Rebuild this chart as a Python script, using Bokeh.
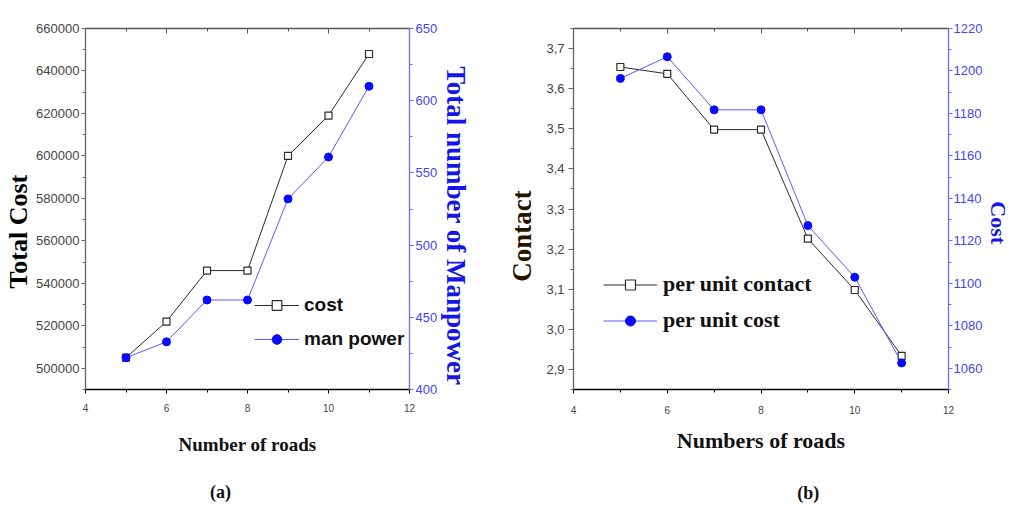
from bokeh.plotting import figure
from bokeh.models import (LinearAxis, Range1d, FixedTicker, Legend, LegendItem,
                          BasicTickFormatter)
from bokeh.layouts import row
from bokeh.embed import file_html
from bokeh.resources import INLINE

# ---------------- data ----------------
roads = [5, 6, 7, 8, 9, 10, 11]
total_cost = [505000, 522000, 546000, 546000, 600000, 619000, 648000]
man_power = [422, 433, 462, 462, 532, 561, 610]

per_unit_contact = [3.654, 3.637, 3.498, 3.498, 3.226, 3.098, 2.934]
per_unit_cost = [1196.5, 1206.7, 1181.7, 1181.7, 1127.2, 1102.9, 1062.5]

x_ticks = [4, 6, 8, 10, 12]
x_minor = [5, 7, 9, 11]
a_left_ticks = [500000, 520000, 540000, 560000, 580000, 600000, 620000, 640000, 660000]
a_right_ticks = [400, 450, 500, 550, 600, 650]
b_left_ticks = [2.9, 3.0, 3.1, 3.2, 3.3, 3.4, 3.5, 3.6, 3.7]
b_left_labels = ["2,9", "3,0", "3,1", "3,2", "3,3", "3,4", "3,5", "3,6", "3,7"]
b_right_ticks = [1060, 1080, 1100, 1120, 1140, 1160, 1180, 1200, 1220]

TICK_FONT = "Liberation Sans"
SERIF = "Liberation Serif"
BLACK_LINE = "#2b2b2b"
BLUE_LINE = "#5a5aff"
BLUE_MARK = "#0a0aff"
BLUE_AXIS = "#6b6bff"
BLUE_TEXT = "#4545ee"
GRAY_TEXT = "#444444"
NB = "\u00a0"  # non-breaking space, used to nudge centred titles


def tick_axis(ticks, minor, color, label_color, font_size, range_name=None,
              inward=False, show_labels=True, overrides=None, standoff=2, tick=4):
    kw = dict(ticker=FixedTicker(ticks=ticks, minor_ticks=minor),
              axis_line_color=color, major_tick_line_color=color,
              minor_tick_line_color=color, axis_line_width=1.3,
              major_label_text_font=TICK_FONT,
              major_label_text_color=label_color,
              major_label_text_font_size=font_size,
              major_label_standoff=standoff)
    if range_name:
        kw["y_range_name"] = range_name
    if inward:
        kw.update(major_tick_in=5, major_tick_out=0, minor_tick_in=3, minor_tick_out=0)
    else:
        kw.update(major_tick_in=0, major_tick_out=tick, minor_tick_in=0, minor_tick_out=3)
    ax = LinearAxis(**kw)
    if not show_labels:
        ax.major_label_overrides = {t: "" for t in ticks}
        ax.major_label_standoff = 0
    elif overrides:
        ax.major_label_overrides = overrides
    return ax


def title_axis(text, size, color, standoff, range_name=None):
    kw = dict(ticker=FixedTicker(ticks=[]), axis_line_color=None,
              major_tick_out=0, major_tick_in=0, minor_tick_out=0, minor_tick_in=0,
              major_label_standoff=0,
              axis_label=text, axis_label_text_font=SERIF,
              axis_label_text_font_size=size, axis_label_text_font_style="bold",
              axis_label_text_color=color, axis_label_standoff=standoff)
    if range_name:
        kw["y_range_name"] = range_name
    return LinearAxis(**kw)


def base_fig(w, h, l, r, t, b, xr, yr, extra):
    p = figure(width=w, height=h, x_range=Range1d(*xr), y_range=Range1d(*yr),
               output_backend="svg", toolbar_location=None,
               x_axis_location=None, y_axis_location=None,
               min_border_left=l, min_border_right=r,
               min_border_top=t, min_border_bottom=b)
    p.extra_y_ranges = {"right": Range1d(*extra)}
    p.xgrid.visible = False
    p.ygrid.visible = False
    p.outline_line_color = None
    return p


# ---------------- panel (a) ----------------
pa = base_fig(500, 505, 83, 91, 28, 113, (4, 12), (490000, 660000), (400, 650))
a_left_minor = [490000 + 10000 * i for i in range(18)]

xa = tick_axis(x_ticks, x_minor, "black", GRAY_TEXT, "10px", standoff=10)
xa.axis_label = "Number of roads"
xa.axis_label_text_font = SERIF
xa.axis_label_text_font_size = "19px"
xa.axis_label_text_font_style = "bold"
xa.axis_label_text_color = "#111111"
xa.axis_label_standoff = 19
pa.add_layout(xa, "below")
pa.add_layout(title_axis("(a)" + NB * 12, "18px", "#111111", 24), "below")
pa.add_layout(tick_axis(x_ticks, x_minor, "#555555", GRAY_TEXT, "10px", inward=True,
                        show_labels=False), "above")
ya = tick_axis(a_left_ticks, a_left_minor, "#666666", GRAY_TEXT, "13px")
ya.formatter = BasicTickFormatter(use_scientific=False)
pa.add_layout(ya, "left")
pa.add_layout(title_axis("Total Cost" + NB * 7, "26px", "black", 1), "left")
pa.add_layout(tick_axis(a_right_ticks, [425, 475, 525, 575, 625], BLUE_AXIS, BLUE_TEXT,
                        "13px", range_name="right"), "right")
pa.add_layout(title_axis(NB * 5 + "Total number of Manpower", "27px", "#1515e8", 0,
                         range_name="right"), "right")

la1 = pa.line(roads, total_cost, line_color=BLACK_LINE, line_width=1)
sa1 = pa.scatter(roads, total_cost, marker="square", size=7, fill_color="white",
                 line_color=BLACK_LINE, line_width=1.2)
la2 = pa.line(roads, man_power, line_color=BLUE_LINE, line_width=1, y_range_name="right")
sa2 = pa.scatter(roads, man_power, marker="circle", size=8, fill_color=BLUE_MARK,
                 line_color=BLUE_MARK, y_range_name="right")

leg_a = Legend(items=[LegendItem(label="cost", renderers=[la1, sa1]),
                      LegendItem(label="man power", renderers=[la2, sa2])],
               location=(169, 38), orientation="vertical",
               glyph_width=45, glyph_height=24, label_height=24, spacing=10,
               label_standoff=5, padding=0, margin=0,
               border_line_alpha=0, background_fill_alpha=0,
               label_text_font=TICK_FONT, label_text_font_style="bold",
               label_text_font_size="19px", label_text_color="#111111")
pa.add_layout(leg_a, "center")

# ---------------- panel (b) ----------------
pb = base_fig(513, 505, 73, 64, 23, 107, (4, 12), (2.85, 3.75), (1050, 1220))
b_left_minor = [2.85 + 0.05 * i for i in range(19)]
b_right_minor = [1050 + 10 * i for i in range(18)]

xb = tick_axis(x_ticks, x_minor, "black", GRAY_TEXT, "10px", standoff=12)
xb.axis_label = "Numbers of roads"
xb.axis_label_text_font = SERIF
xb.axis_label_text_font_size = "22px"
xb.axis_label_text_font_style = "bold"
xb.axis_label_text_color = "#111111"
xb.axis_label_standoff = 11
pb.add_layout(xb, "below")
pb.add_layout(title_axis(NB * 21 + "(b)", "18px", "#111111", 27), "below")
pb.add_layout(tick_axis(x_ticks, x_minor, "#555555", GRAY_TEXT, "10px", inward=True,
                        show_labels=False), "above")
pb.add_layout(tick_axis(b_left_ticks, b_left_minor, "#666666", GRAY_TEXT, "13px",
                        overrides={t: s for t, s in zip(b_left_ticks, b_left_labels)},
                        standoff=4, tick=5),
              "left")
pb.add_layout(title_axis("Contact" + NB * 8, "27px", "#241400", 7), "left")
pb.add_layout(tick_axis(b_right_ticks, b_right_minor, BLUE_AXIS, BLUE_TEXT, "13px",
                        range_name="right", standoff=1), "right")
pb.add_layout(title_axis(NB * 5 + "Cost", "22px", "#1515e8", 0,
                         range_name="right"), "right")

lb1 = pb.line(roads, per_unit_contact, line_color=BLACK_LINE, line_width=1)
sb1 = pb.scatter(roads, per_unit_contact, marker="square", size=7, fill_color="white",
                 line_color=BLACK_LINE, line_width=1.2)
lb2 = pb.line(roads, per_unit_cost, line_color=BLUE_LINE, line_width=1, y_range_name="right")
sb2 = pb.scatter(roads, per_unit_cost, marker="circle", size=8, fill_color=BLUE_MARK,
                 line_color=BLUE_MARK, y_range_name="right")

leg_b = Legend(items=[LegendItem(label="per unit contact", renderers=[lb1, sb1]),
                      LegendItem(label="per unit cost", renderers=[lb2, sb2])],
               location=(30, 56), orientation="vertical",
               glyph_width=54, glyph_height=25, label_height=25, spacing=10,
               label_standoff=6, padding=0, margin=0,
               border_line_alpha=0, background_fill_alpha=0,
               label_text_font=SERIF, label_text_font_style="bold",
               label_text_font_size="22px", label_text_color="#111111")
pb.add_layout(leg_b, "center")

layout = row(pa, pb)
open("out.html", "w").write(file_html(layout, INLINE))
